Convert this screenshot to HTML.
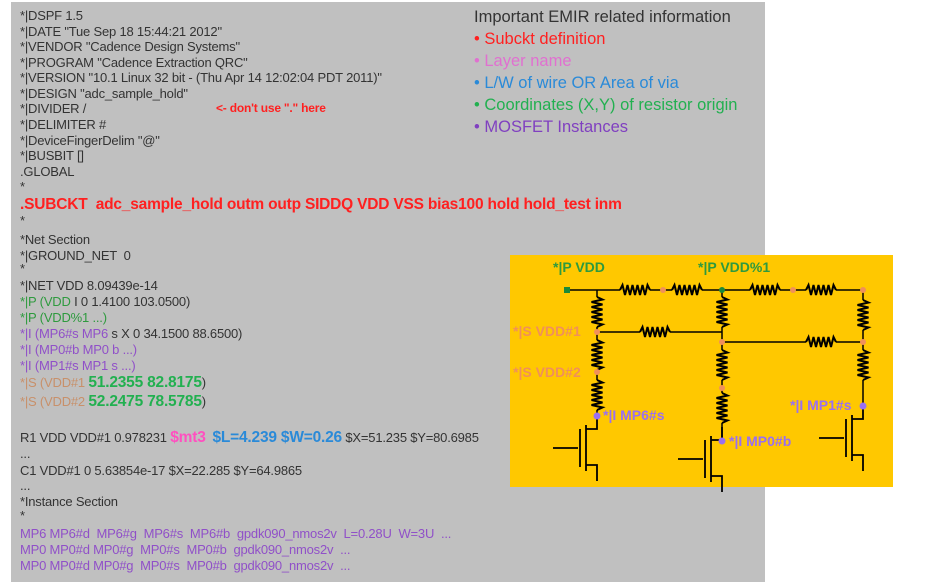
<!DOCTYPE html>
<html><head><meta charset="utf-8"><style>
body{margin:0;width:936px;height:588px;background:#fff;position:relative;overflow:hidden;font-family:"Liberation Sans",Arial,sans-serif}
#g{position:absolute;left:11px;top:2px;width:754px;height:580px;background:#c0c0c0}
.l{position:absolute;left:20px;font-size:13px;color:#333;white-space:pre;line-height:15px;letter-spacing:-0.2px}
.lg{position:absolute;left:474px;font-size:16.5px;white-space:pre;line-height:19px}
.gr{color:#2e9a3e}.pu{color:#9050c8}.br{color:#c8906a}.rd{color:#ff2020}
.big{font-size:15.5px;font-weight:bold;color:#22b050}
</style></head><body>
<div id="g"></div>
<div class="l" style="top:8px">*|DSPF 1.5</div>
<div class="l" style="top:24px">*|DATE "Tue Sep 18 15:44:21 2012"</div>
<div class="l" style="top:39px">*|VENDOR "Cadence Design Systems"</div>
<div class="l" style="top:55px">*|PROGRAM "Cadence Extraction QRC"</div>
<div class="l" style="top:70px">*|VERSION "10.1 Linux 32 bit - (Thu Apr 14 12:02:04 PDT 2011)"</div>
<div class="l" style="top:86px">*|DESIGN "adc_sample_hold"</div>
<div class="l" style="top:101px">*|DIVIDER /</div>
<div class="l" style="top:101px;left:216px;color:#ff2020;font-weight:bold;font-size:12px">&lt;- don't use "." here</div>
<div class="l" style="top:117px">*|DELIMITER #</div>
<div class="l" style="top:133px">*|DeviceFingerDelim "@"</div>
<div class="l" style="top:148px">*|BUSBIT []</div>
<div class="l" style="top:164px">.GLOBAL</div>
<div class="l" style="top:179px">*</div>
<div class="l" style="top:196px;font-size:15.5px;font-weight:bold;color:#ff2020;line-height:18px">.SUBCKT  adc_sample_hold outm outp SIDDQ VDD VSS bias100 hold hold_test inm</div>
<div class="l" style="top:213px">*</div>
<div class="l" style="top:232px">*Net Section</div>
<div class="l" style="top:248px">*|GROUND_NET  0</div>
<div class="l" style="top:261px">*</div>
<div class="l" style="top:278px">*|NET VDD 8.09439e-14</div>
<div class="l" style="top:294px"><span class="gr">*|P (VDD</span> I 0 1.4100 103.0500)</div>
<div class="l gr" style="top:310px">*|P (VDD%1 ...)</div>
<div class="l" style="top:326px"><span class="pu">*|I (MP6#s MP6</span> s X 0 34.1500 88.6500)</div>
<div class="l pu" style="top:342px">*|I (MP0#b MP0 b ...)</div>
<div class="l pu" style="top:358px">*|I (MP1#s MP1 s ...)</div>
<div class="l" style="top:375px"><span class="br">*|S (VDD#1 </span><span class="big">51.2355 82.8175</span>)</div>
<div class="l" style="top:394px"><span class="br">*|S (VDD#2 </span><span class="big">52.2475 78.5785</span>)</div>
<div class="l" style="top:430px">R1 VDD VDD#1 0.978231 <span style="color:#ff50c0;font-size:15.5px;font-weight:bold">$mt3</span>  <span style="color:#2a8ad8;font-size:15.5px;font-weight:bold">$L=4.239 $W=0.26</span> $X=51.235 $Y=80.6985</div>
<div class="l" style="top:446px">...</div>
<div class="l" style="top:463px">C1 VDD#1 0 5.63854e-17 $X=22.285 $Y=64.9865</div>
<div class="l" style="top:478px">...</div>
<div class="l" style="top:494px">*Instance Section</div>
<div class="l" style="top:508px">*</div>
<div class="l pu" style="top:526px">MP6 MP6#d  MP6#g  MP6#s  MP6#b  gpdk090_nmos2v  L=0.28U  W=3U  ...</div>
<div class="l pu" style="top:542px">MP0 MP0#d MP0#g  MP0#s  MP0#b  gpdk090_nmos2v  ...</div>
<div class="l pu" style="top:558px">MP0 MP0#d MP0#g  MP0#s  MP0#b  gpdk090_nmos2v  ...</div>

<div class="lg" style="top:8px;color:#333">Important EMIR related information</div>
<div class="lg rd" style="top:30px">• Subckt definition</div>
<div class="lg" style="top:52px;color:#e070d0">• Layer name</div>
<div class="lg" style="top:74px;color:#2a8ad8">• L/W of wire OR Area of via</div>
<div class="lg" style="top:96px;color:#22b050">• Coordinates (X,Y) of resistor origin</div>
<div class="lg" style="top:118px;color:#8040c0">• MOSFET Instances</div>

<svg style="position:absolute;left:0;top:0" width="936" height="588">
<defs>
<path id="rh" d="M0,0 l2.5,-5 l2.5,10 l2.5,-10 l2.5,10 l2.5,-10 l2.5,10 l2.5,-10 l2.5,10 l2.5,-10 l2.5,10 l2.5,-10 l2.5,5" fill="none" stroke="#000" stroke-width="2"/>
<path id="rv" d="M0,0 l5.5,2.5 l-11,2.5 l11,2.5 l-11,2.5 l11,2.5 l-11,2.5 l11,2.5 l-11,2.5 l11,2.5 l-11,2.5 l11,2.5 l-5.5,2.5" fill="none" stroke="#000" stroke-width="2"/>
<g id="tr" fill="none" stroke="#000" stroke-width="1.8">
<path d="M-44,33 h25 M-17,14 v38 M-11,10 v46 M-11,14 h11 v-13 M-11,50 h11 v16"/>
</g>
</defs>
<rect x="510" y="255" width="383" height="232" fill="#ffc800"/>
<g stroke="#000" stroke-width="1.5" fill="none">
<path d="M567,290 H620 M650,290 H672 M702,290 H750 M780,290 H806 M836,290 H863"/>
<path d="M597,290 V297 M597,327 V340 M597,370 V380 M597,410 V416"/>
<path d="M597,332 H640 M670,332 H722"/>
<path d="M722,290 V297 M722,327 V350 M722,380 V393 M722,423 V441"/>
<path d="M722,342 H806 M836,342 H863"/>
<path d="M863,290 V300 M863,330 V350 M863,380 V406"/>
</g>
<use href="#rh" x="620" y="290"/><use href="#rh" x="672" y="290"/>
<use href="#rh" x="750" y="290"/><use href="#rh" x="806" y="290"/>
<use href="#rh" x="640" y="332"/><use href="#rh" x="806" y="342"/>
<use href="#rv" x="597" y="297"/><use href="#rv" x="597" y="340"/><use href="#rv" x="597" y="380"/>
<use href="#rv" x="722" y="297"/><use href="#rv" x="722" y="350"/><use href="#rv" x="722" y="393"/>
<use href="#rv" x="863" y="300"/><use href="#rv" x="863" y="350"/>
<use href="#tr" x="597" y="415"/>
<use href="#tr" x="722" y="426"/>
<use href="#tr" x="863" y="405"/>
<g fill="#f0905a"><circle cx="663" cy="290" r="3"/><circle cx="793" cy="290" r="3"/><circle cx="863" cy="290" r="3"/>
<circle cx="597" cy="332" r="3"/><circle cx="597" cy="372" r="3"/><circle cx="722" cy="342" r="3"/><circle cx="722" cy="388" r="3"/><circle cx="863" cy="342" r="3"/></g>
<g fill="#1a8a3a"><rect x="564" y="287" width="6" height="6"/><circle cx="722" cy="290" r="3"/></g>
<g fill="#9a70f0"><circle cx="597" cy="416" r="3.5"/><circle cx="722" cy="441" r="3.5"/><circle cx="863" cy="406" r="3.5"/></g>
<g font-family="Liberation Sans,Arial,sans-serif" font-size="14" font-weight="bold">
<text x="553" y="272" fill="#2e9a3e">*|P VDD</text>
<text x="698" y="272" fill="#2e9a3e">*|P VDD%1</text>
<text x="513" y="336" fill="#f0905a">*|S VDD#1</text>
<text x="513" y="377" fill="#f0905a">*|S VDD#2</text>
<text x="603" y="420" fill="#9a70f0">*|I MP6#s</text>
<text x="729" y="446" fill="#9a70f0">*|I MP0#b</text>
<text x="790" y="410" fill="#9a70f0">*|I MP1#s</text>
</g>
</svg>
</body></html>
